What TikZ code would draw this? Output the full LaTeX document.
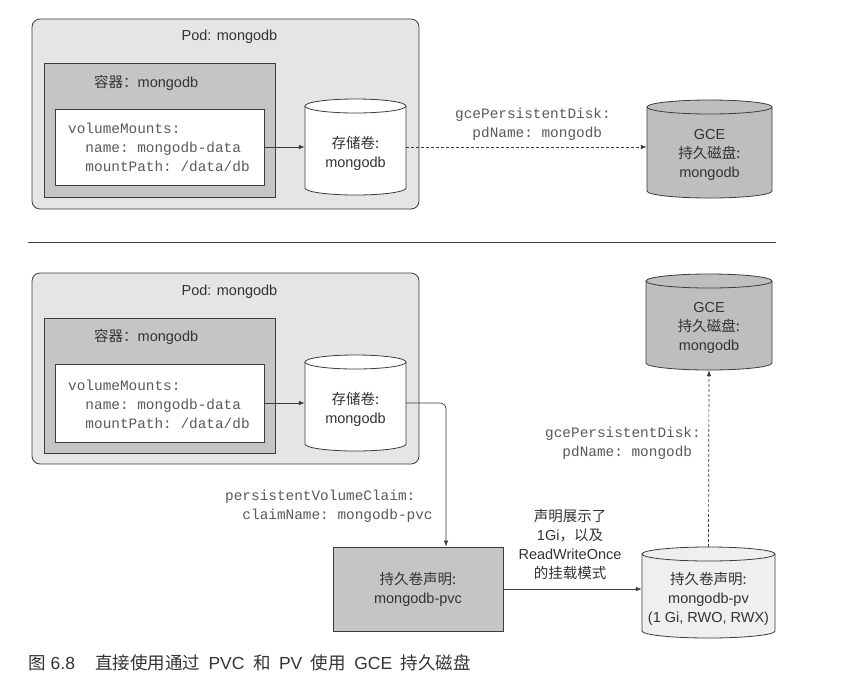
\documentclass[tikz,border=0pt]{standalone}
\usepackage{fontspec}
\setmainfont{Liberation Sans}
\setmonofont{Liberation Mono}
\newfontfamily\cjk{Noto Sans CJK SC}
\usetikzlibrary{arrows.meta}
\definecolor{linegray}{HTML}{3C3C3C}
\definecolor{podgray}{HTML}{E5E5E5}
\definecolor{ctrgray}{HTML}{C5C5C5}
\definecolor{diskgray}{HTML}{BEBEBE}
\definecolor{pvgray}{HTML}{EFEFEF}
\definecolor{txtgray}{HTML}{333333}
\definecolor{codegray}{HTML}{5A5A5A}
\newcommand\zh[1]{{\cjk #1}}
\newcommand\gap{\hspace{8.5pt}}
% disk: name, cx, cy, width, height, fill, text
\newcommand\disk[7]{%
  \pgfmathsetmacro\dl{#2-#4/2}\pgfmathsetmacro\dr{#2+#4/2}%
  \pgfmathsetmacro\dt{#3-#5/2+7}\pgfmathsetmacro\db{#3+#5/2-7}%
  \pgfmathsetmacro\drx{#4/2}%
  \filldraw[diskline,fill=#6] (\dl,\dt) -- (\dl,\db)
    arc[start angle=180,end angle=360,x radius=\drx pt,y radius=7pt] -- (\dr,\dt)
    arc[start angle=0,end angle=180,x radius=\drx pt,y radius=7pt] -- cycle;
  \draw[diskline] (\dl,\dt) arc[start angle=180,end angle=360,x radius=\drx pt,y radius=7pt];
  \node[inner sep=0pt,minimum width=#4pt,minimum height=#5pt] (#1) at (#2,#3) {};
  \node[lbl] (#1-txt) at ([yshift=-6pt]#1.center) {#7};
}
\tikzset{
  box/.style={draw=linegray,line width=0.8pt,inner sep=0pt},
  podbox/.style={box,fill=podgray,rounded corners=8pt},
  ctrbox/.style={box,fill=ctrgray},
  mountbox/.style={box,fill=white},
  diskline/.style={draw=linegray,line width=0.8pt},
  lbl/.style={text=txtgray,font=\fontsize{14.5}{19}\selectfont,align=center,inner sep=0pt},
  code/.style={text=codegray,font=\ttfamily\fontsize{14.4}{19}\selectfont,align=left,inner sep=0pt},
  link/.style={draw=linegray,line width=0.7pt,-{Latex[length=6pt,width=4.5pt]}},
  dlink/.style={link,dash pattern=on 3pt off 2pt},
}
\begin{document}
\begin{tikzpicture}[x=1pt,y=-1pt]
\useasboundingbox (0,0) rectangle (841,681);
\fill[white] (0,0) rectangle (841,681);
% top: volume straight to the GCE disk
\node[podbox,minimum width=387pt,minimum height=190pt] (podA) at (225.5,114) {};
\node[lbl] (podAtitle) at (229.5,37) {Pod: mongodb};
\node[ctrbox,minimum width=231pt,minimum height=134pt] (ctrA) at (159.5,130) {};
\node[lbl,anchor=west] (ctrAtitle) at (94,83) {\zh{容器：}mongodb};
\node[mountbox,minimum width=209pt,minimum height=76pt] (mountA) at (159.5,147) {};
\node[code,anchor=west] (mountAcode) at (68,147) {volumeMounts:\\\ \ name: mongodb-data\\\ \ mountPath: /data/db};
\disk{volA}{355.5}{147}{101}{96}{white}{\zh{存储卷:}\\mongodb}
\disk{gceA}{709.5}{149}{125}{98}{diskgray}{GCE\\\zh{持久磁盘:}\\mongodb}
\draw[link] (mountA.east) -- (mountA.east -| volA.west);
\draw[dlink] (volA.east) -- (volA.east -| gceA.west);
\node[code,anchor=west] (gceAcode) at (455,124) {gcePersistentDisk:\\\ \ pdName: mongodb};
% separator
\coordinate (sepL) at (28,242);
\coordinate (sepR) at (776,242);
\draw[linegray,line width=1pt] (sepL) -- (sepR);
% bottom: volume through PVC and PV
\node[podbox,minimum width=387pt,minimum height=191pt] (podB) at (225.5,368.5) {};
\node[lbl] (podBtitle) at (229.5,292) {Pod: mongodb};
\node[ctrbox,minimum width=231pt,minimum height=135pt] (ctrB) at (159.5,385.5) {};
\node[lbl,anchor=west] (ctrBtitle) at (94,337) {\zh{容器：}mongodb};
\node[mountbox,minimum width=209pt,minimum height=78pt] (mountB) at (159.5,403) {};
\node[code,anchor=west] (mountBcode) at (68,404) {volumeMounts:\\\ \ name: mongodb-data\\\ \ mountPath: /data/db};
\disk{volB}{355.5}{403}{101}{96}{white}{\zh{存储卷:}\\mongodb}
\disk{gceB}{709}{322}{126}{96}{diskgray}{GCE\\\zh{持久磁盘:}\\mongodb}
\disk{pv}{708.5}{592.5}{133}{91}{pvgray}{\zh{持久卷声明:}\\mongodb-pv\\(1 Gi, RWO, RWX)}
\node[ctrbox,lbl,draw=linegray,minimum width=170pt,minimum height=84pt] (pvc) at (418,589) {\zh{持久卷声明:}\\mongodb-pvc};
\coordinate (bend) at (446,403);
\draw[link] (mountB.east) -- (mountB.east -| volB.west);
\draw[link,rounded corners=6pt] (volB.east) -- (bend) -- (bend |- pvc.north);
\node[code,anchor=west] (pvcCode) at (225,506.5) {persistentVolumeClaim:\\\ \ claimName: mongodb-pvc};
\draw[link] (pvc.east) -- (pvc.east -| pv.west);
\node[lbl] (claimNote) at (570,544) {\zh{声明展示了}\\1Gi\zh{，以及}\\ReadWriteOnce\\\zh{的挂载模式}};
\draw[dlink] (pv.north) -- (gceB.south);
\node[code,anchor=west] (gceBcode) at (545,443) {gcePersistentDisk:\\\ \ pdName: mongodb};
% caption
\node[lbl,anchor=west,font=\fontsize{17.5}{20}\selectfont] (caption) at (28,663) {\zh{图}\hspace{5pt}6.8\hspace{20pt}\zh{直接使用通过}\gap PVC\gap\zh{和}\gap PV\gap\zh{使用}\gap GCE\gap\zh{持久磁盘}};
\end{tikzpicture}
\end{document}
